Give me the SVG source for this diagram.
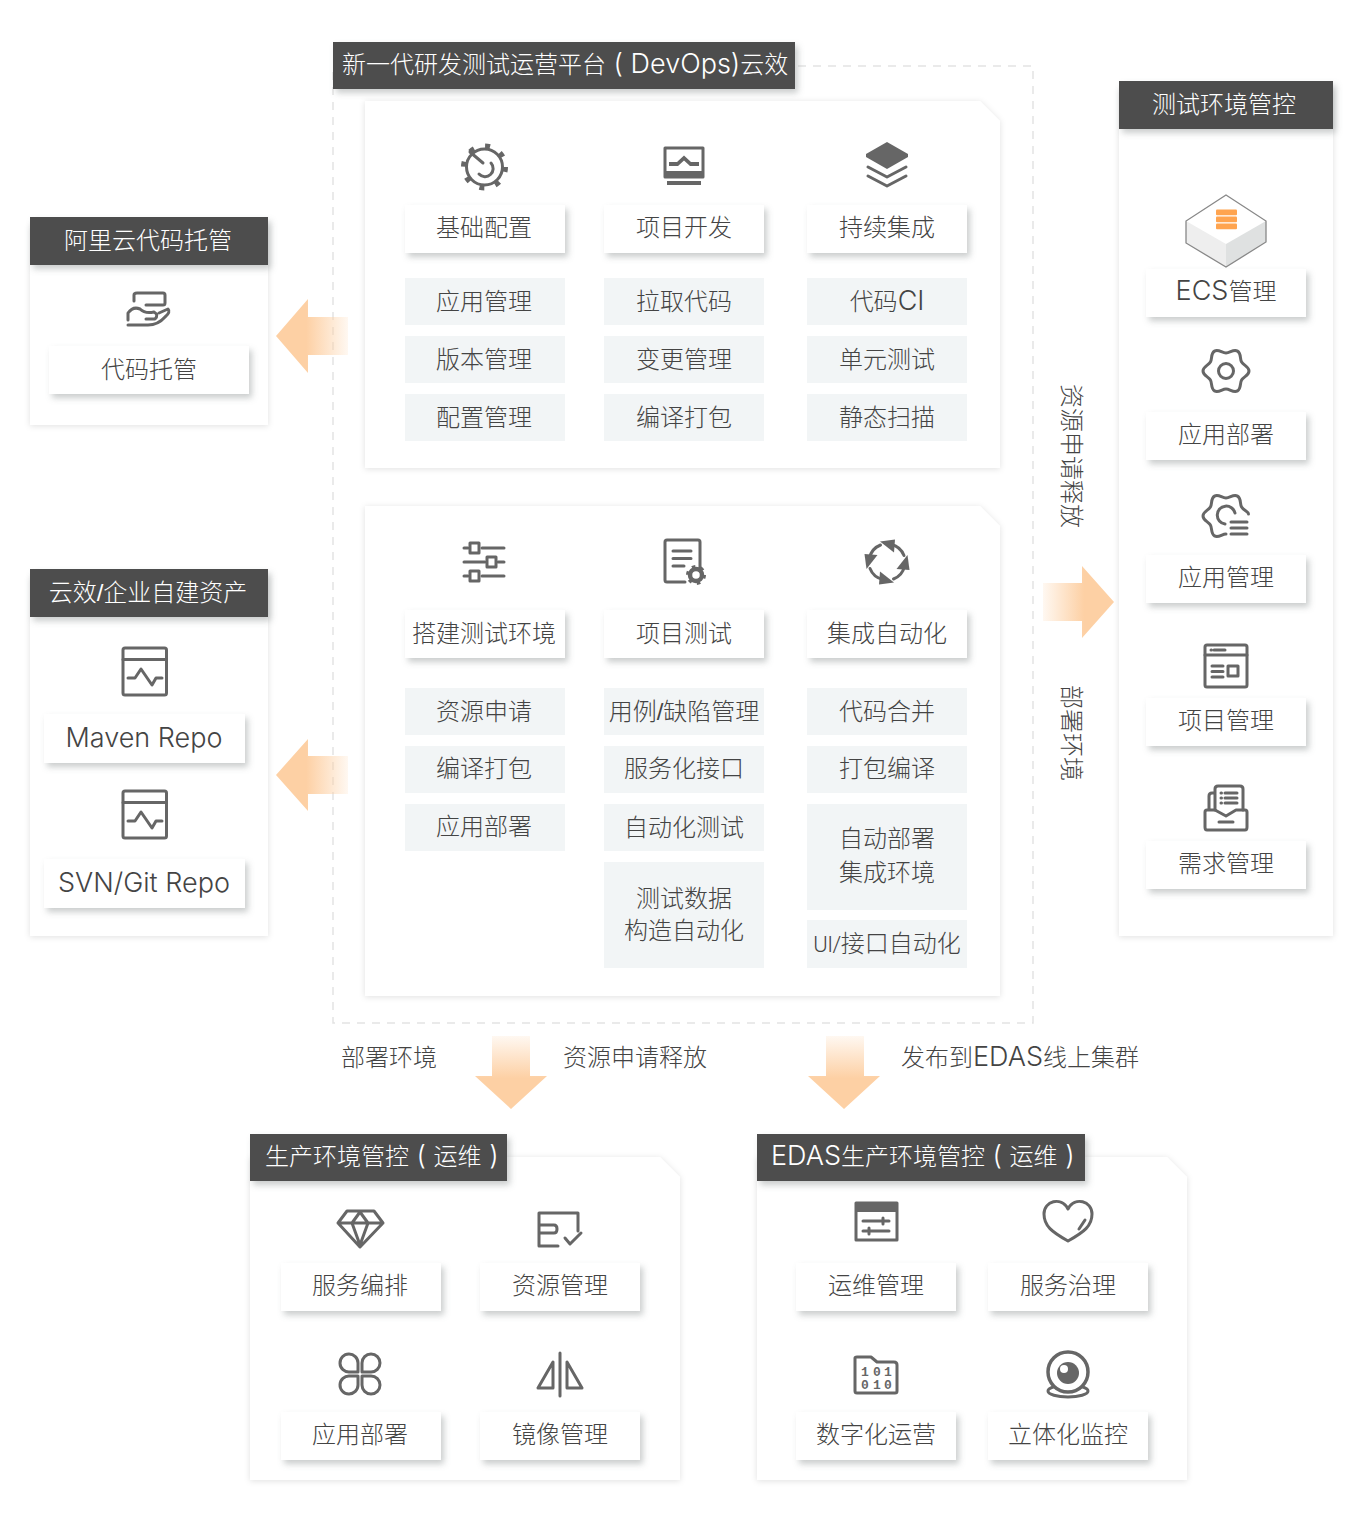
<svg xmlns="http://www.w3.org/2000/svg" xmlns:xlink="http://www.w3.org/1999/xlink" width="1360" height="1521" viewBox="0 0 1360 1521">
<style>
text{font-family:"Liberation Sans","Noto Sans CJK SC",sans-serif;font-size:24px;fill:#444;text-anchor:middle;font-weight:300}
.l{font-family:Inter,"Liberation Sans",sans-serif;font-size:27px;font-weight:300}
.u{font-family:Roboto,"Liberation Sans",sans-serif;font-size:22px;font-weight:300;letter-spacing:-.5px}
.t{fill:#fff}
.st{text-anchor:start}
.s{fill:#4d4d4d;filter:url(#bs)}
.p{fill:#fff;filter:url(#ps)}
.b{fill:#fff;filter:url(#bs)}
.g{fill:#f2f5f6}
.i{fill:none;stroke:#666;stroke-width:3;stroke-linejoin:round;stroke-linecap:round}
.f{fill:#666}
.d{font-size:13px;font-weight:700;fill:#666;font-family:"Liberation Mono",monospace}
</style>
<defs>
<filter id="bs" x="-20%" y="-30%" width="150%" height="170%"><feDropShadow dx="3" dy="4" stdDeviation="3" flood-color="#8a9090" flood-opacity=".45"/></filter>
<filter id="ps" x="-10%" y="-10%" width="120%" height="120%"><feDropShadow dx="0" dy="1" stdDeviation="3" flood-color="#000" flood-opacity=".12"/></filter>
<linearGradient id="al" x1="0" x2="1" y1="0" y2="0"><stop offset="0" stop-color="#fdd0a4"/><stop offset=".42" stop-color="#fdd0a4"/><stop offset="1" stop-color="#fdd0a4" stop-opacity=".15"/></linearGradient>
<linearGradient id="ar" x1="1" x2="0" y1="0" y2="0"><stop offset="0" stop-color="#fdd0a4"/><stop offset=".42" stop-color="#fdd0a4"/><stop offset="1" stop-color="#fdd0a4" stop-opacity=".15"/></linearGradient>
<linearGradient id="ad" x1="0" x2="0" y1="1" y2="0"><stop offset="0" stop-color="#fdd0a4"/><stop offset=".42" stop-color="#fdd0a4"/><stop offset="1" stop-color="#fdd0a4" stop-opacity=".15"/></linearGradient>
<path id="cog" d="M23 0C23-4.500 17.600-5.500 15.600-9 13.600-12.500 15.400-17.700 11.500-19.900 7.600-22.200 4-18 0-18-4-18-7.600-22.200-11.500-19.900-15.400-17.700-13.600-12.500-15.600-9-17.600-5.500-23-4.500-23 0-23 4.500-17.600 5.500-15.600 9-13.600 12.500-15.400 17.700-11.500 19.900-7.600 22.200-4 18 0 18 4 18 7.600 22.200 11.500 19.900 15.400 17.700 13.600 12.500 15.600 9 17.600 5.500 23 4.500 23 0Z"/>
<g id="repo"><rect class="i" x="123" y="648" width="43.500" height="47" rx="2"/><path class="i" d="M123 659.500H166.500M128 678H135L141 669L152 685L156 678H162"/></g>
<g id="ca"><path class="i" d="M4-17.500A18 18 0 0 1 17-6.500" stroke-width="7" stroke-linecap="butt"/><path class="f" d="M-7-20.500L8-22.500L7-9.500Z"/></g>
</defs>

<g id="connectors">
<rect x="333" y="66" width="700" height="957" fill="none" stroke="#e3e3e3" stroke-width="1.500" stroke-dasharray="8 7"/>
<path fill="url(#al)" d="M276 336L308 299V317H348V355H308V373Z"/>
<path fill="url(#al)" d="M276 775L308 739V756H348V794H308V811Z"/>
<path fill="url(#ar)" d="M1114 602L1082 566V583H1043V621H1082V638Z"/>
<path fill="url(#ad)" d="M511 1109L475 1076H492V1036H530V1076H547Z"/>
<path fill="url(#ad)" d="M844 1109L808 1076H826V1036H864V1076H880Z"/>
<text transform="translate(1063 456) rotate(90)">资源申请释放</text>
<text transform="translate(1063 733) rotate(90)">部署环境</text>
<text x="389" y="1066">部署环境</text>
<text x="635" y="1066">资源申请释放</text>
<text x="1020" y="1066">发布到<tspan class="l">EDAS</tspan>线上集群</text>
</g>

<g id="platform-title"><rect class="s" x="333" y="42" width="462" height="47"/><text class="t st" x="342" y="73">新一代研发测试运营平台<tspan class="l"> ( DevOps)</tspan>云效</text></g>

<g id="dev-panel">
<path class="p" d="M365 101H980L1000 121V468H365Z"/>
<g id="icon-jichu"><circle class="i" cx="484.500" cy="167" r="18" stroke-width="5"/><circle cx="484.500" cy="167" r="21" fill="none" stroke="#666" stroke-width="5" stroke-dasharray="5 11.490"/><path class="i" d="M470 152L483 163M491 163A7.500 7.500 0 1 1 479 174" stroke-width="4"/></g>
<g id="icon-xiangmu"><rect class="i" x="665" y="148" width="38" height="29" stroke-width="4" stroke-linecap="butt"/><path class="f" d="M665 171H703V178H665ZM667 181H701V185H667Z"/><path class="f" d="M669 162H677L684 155.500L691 162H699V166H690L684 160.500L678 166H669Z"/></g>
<g id="icon-layers"><path class="f" d="M887 142L908 154V157L887 169L866 157V154Z"/><path class="i" d="M868 167L887 177L906 167M868 176L887 186L906 176" stroke-width="4" stroke-linecap="butt"/></g>
<rect class="b" x="405" y="205" width="160" height="48"/><text x="484" y="236">基础配置</text>
<rect class="b" x="604" y="205" width="160" height="48"/><text x="684" y="236">项目开发</text>
<rect class="b" x="807" y="205" width="160" height="48"/><text x="887" y="236">持续集成</text>
<rect class="g" x="405" y="278" width="160" height="47"/><text x="484" y="310">应用管理</text>
<rect class="g" x="405" y="336" width="160" height="47"/><text x="484" y="368">版本管理</text>
<rect class="g" x="405" y="394" width="160" height="47"/><text x="484" y="426">配置管理</text>
<rect class="g" x="604" y="278" width="160" height="47"/><text x="684" y="310">拉取代码</text>
<rect class="g" x="604" y="336" width="160" height="47"/><text x="684" y="368">变更管理</text>
<rect class="g" x="604" y="394" width="160" height="47"/><text x="684" y="426">编译打包</text>
<rect class="g" x="807" y="278" width="160" height="47"/><text x="887" y="310">代码<tspan class="l">CI</tspan></text>
<rect class="g" x="807" y="336" width="160" height="47"/><text x="887" y="368">单元测试</text>
<rect class="g" x="807" y="394" width="160" height="47"/><text x="887" y="426">静态扫描</text>
</g>

<g id="test-panel">
<path class="p" d="M365 506H980L1000 526V996H365Z"/>
<g id="icon-sliders"><path class="i" d="M464 548H468M482 548H504M464 562H485M498 562H504M464 576H468M482 576H504" stroke-linecap="butt" stroke-width="4.500"/><rect class="i" x="470" y="543" width="9" height="10" stroke-width="4.500"/><rect class="i" x="487" y="557" width="9" height="10" stroke-width="4.500"/><rect class="i" x="470" y="571" width="9" height="10" stroke-width="4.500"/></g>
<g id="icon-doc"><path class="i" d="M700 568V542Q700 540 698 540H667Q665 540 665 542V580Q665 582 667 582H685" stroke-width="4.500"/><path class="i" d="M673 551H691M673 558.500H691M673 566H684" stroke-width="4" stroke-linecap="butt"/><circle cx="696" cy="575" r="6" fill="none" stroke="#666" stroke-width="4.500"/><circle cx="696" cy="575" r="8.500" fill="none" stroke="#666" stroke-width="3" stroke-dasharray="3.500 5.400"/></g>
<g id="icon-cycle" transform="translate(887 562)"><use xlink:href="#ca" href="#ca"/><use xlink:href="#ca" href="#ca" transform="rotate(90)"/><use xlink:href="#ca" href="#ca" transform="rotate(180)"/><use xlink:href="#ca" href="#ca" transform="rotate(270)"/></g>
<rect class="b" x="405" y="610" width="160" height="48"/><text x="484" y="642">搭建测试环境</text>
<rect class="b" x="604" y="610" width="160" height="48"/><text x="684" y="642">项目测试</text>
<rect class="b" x="807" y="610" width="160" height="48"/><text x="887" y="642">集成自动化</text>
<rect class="g" x="405" y="688" width="160" height="47"/><text x="484" y="720">资源申请</text>
<rect class="g" x="405" y="746" width="160" height="47"/><text x="484" y="777">编译打包</text>
<rect class="g" x="405" y="804" width="160" height="47"/><text x="484" y="835">应用部署</text>
<rect class="g" x="604" y="688" width="160" height="47"/><text x="684" y="720">用例/缺陷管理</text>
<rect class="g" x="604" y="746" width="160" height="47"/><text x="684" y="777">服务化接口</text>
<rect class="g" x="604" y="804" width="160" height="47"/><text x="684" y="836">自动化测试</text>
<rect class="g" x="604" y="862" width="160" height="106"/><text x="684" y="907">测试数据</text><text x="684" y="939">构造自动化</text>
<rect class="g" x="807" y="688" width="160" height="47"/><text x="887" y="720">代码合并</text>
<rect class="g" x="807" y="746" width="160" height="47"/><text x="887" y="777">打包编译</text>
<rect class="g" x="807" y="804" width="160" height="106"/><text x="887" y="847">自动部署</text><text x="887" y="881">集成环境</text>
<rect class="g" x="807" y="920" width="160" height="48"/><text x="887" y="952"><tspan class="u">UI/</tspan>接口自动化</text>
</g>

<g id="aliyun-hosting">
<rect class="p" x="30" y="225" width="238" height="200"/>
<rect class="s" x="30" y="217" width="238" height="48"/><text class="t" x="148" y="249">阿里云代码托管</text>
<g id="icon-hand"><path class="i" d="M134 301V295Q134 293 137 293H163Q165 293 165 295V303Q165 305 163 305H146M159 313L168 309Q171 312 165 317Q158 325 148 325H128M146 319H155Q159 315 154 312Q145 314 140 309Q133 306 128 313V320" stroke-width="2.800"/></g>
<rect class="b" x="49" y="346" width="200" height="48"/><text x="149" y="378">代码托管</text>
</g>

<g id="yunxiao-assets">
<rect class="p" x="30" y="577" width="238" height="359"/>
<rect class="s" x="30" y="569" width="238" height="48"/><text class="t" x="148" y="601">云效/企业自建资产</text>
<use xlink:href="#repo" href="#repo"/>
<rect class="b" x="44" y="714" width="201" height="49"/><text class="l" x="144" y="747">Maven Repo</text>
<use xlink:href="#repo" href="#repo" transform="translate(0 143)"/>
<rect class="b" x="44" y="859" width="201" height="49"/><text class="l" x="144" y="892">SVN/Git Repo</text>
</g>

<g id="test-env">
<rect class="p" x="1119" y="89" width="214" height="847"/>
<rect class="s" x="1119" y="81" width="214" height="48"/><text class="t" x="1224" y="113">测试环境管控</text>
<g id="icon-ecs">
<path fill="#fff" d="M1226 195L1266 221L1226 244L1186 221Z"/><path fill="#eee" d="M1186 221L1226 244V267L1186 243Z"/><path fill="#dfe1e1" d="M1266 221L1226 244V267L1266 242Z"/>
<path fill="none" stroke="#888" stroke-width="1.300" d="M1226 195L1266 221V242L1226 267L1186 243V221Z"/>
<rect fill="#ffa44f" x="1216" y="209.500" width="21" height="5.800" rx="1"/><rect fill="#ffa44f" x="1216" y="216.500" width="21" height="5.800" rx="1"/><rect fill="#ffa44f" x="1216" y="223.500" width="21" height="5.800" rx="1"/>
</g>
<rect class="b" x="1146" y="269" width="160" height="48"/><text x="1226" y="300"><tspan class="l">ECS</tspan>管理</text>
<g id="icon-appdeploy" transform="translate(1226 371)"><use xlink:href="#cog" href="#cog" class="i" stroke-width="3.500"/><circle class="i" r="7.500" stroke-width="3.500"/></g>
<rect class="b" x="1146" y="412" width="160" height="48"/><text x="1226" y="443">应用部署</text>
<g id="icon-appmanage" transform="translate(1226 516)"><path class="i" stroke-width="3.500" d="M22.500-2C22.500-4.500 17.600-5.500 15.600-9 13.600-12.500 15.400-17.700 11.500-19.900 7.600-22.200 4-18 0-18-4-18-7.600-22.200-11.500-19.900-15.400-17.700-13.600-12.500-15.600-9-17.600-5.500-23-4.500-23 0-23 4.500-17.600 5.500-15.600 9-13.600 12.500-15.400 17.700-11.500 19.900-7.600 22.200-4 18 0 18"/><path class="i" stroke-width="3.500" d="M9-3A9 9 0 1 0-1 8"/><path class="i" stroke-width="3.500" stroke-linecap="butt" d="M5 6H21M5 12H21M5 18H21"/></g>
<rect class="b" x="1146" y="555" width="160" height="48"/><text x="1226" y="586">应用管理</text>
<g id="icon-projmanage"><rect class="i" x="1205" y="645" width="42" height="42" rx="2"/><path class="i" d="M1205 655H1247M1214 650H1225M1212 666H1223M1212 671.500H1223M1212 677H1223"/><path class="i" d="M1211 650H1211.500" stroke-width="3"/><rect class="i" x="1228" y="666" width="10" height="10"/></g>
<rect class="b" x="1146" y="698" width="160" height="48"/><text x="1226" y="729">项目管理</text>
<g id="icon-req"><path class="i" stroke-width="2.500" d="M1209 809V796Q1209 793 1212 793H1215M1215 810V789Q1215 786 1218 786H1240Q1243 786 1243 789V810"/><path class="i" stroke-width="2.500" d="M1221 793H1221.500M1221 798H1221.500M1221 803H1221.500M1225 793H1237M1225 798H1237M1225 803H1237"/><path fill="#fff" class="i" stroke-width="2.500" d="M1215 810H1207Q1205 810 1205 812V827Q1205 830 1207 830H1245Q1247 830 1247 827V812Q1247 810 1245 810H1236L1226 816Z"/><path class="i" stroke-width="2.500" d="M1219 822H1233"/></g>
<rect class="b" x="1146" y="841" width="160" height="48"/><text x="1226" y="872">需求管理</text>
</g>

<g id="prod-env">
<path class="p" d="M250 1157H660L680 1177V1480H250Z"/>
<rect class="s" x="250" y="1134" width="257" height="47"/><text class="t st" x="265" y="1165">生产环境管控<tspan class="l"> ( </tspan>运维<tspan class="l"> )</tspan></text>
<g id="icon-gem"><path class="i" d="M338 1223L347 1211H374L383 1223L360 1247ZM338 1223H383M352 1223L360 1245L368 1223L360 1212Z"/></g>
<g id="icon-wallet"><path class="i" d="M578 1231V1213H539V1246H558M539 1225H554Q557 1225 557 1229Q557 1233 554 1233H539M565 1238L570 1244L581 1233" stroke-width="3"/></g>
<rect class="b" x="281" y="1263" width="160" height="48"/><text x="360" y="1294">服务编排</text>
<rect class="b" x="480" y="1263" width="160" height="48"/><text x="560" y="1294">资源管理</text>
<g id="icon-clover"><path class="i" d="M358 1372H349.500A9 9 0 1 1 358 1363ZM362 1372H371A9 9 0 1 0 362 1363ZM358 1376H349.500A9 9 0 1 0 358 1385ZM362 1376H371A9 9 0 1 1 362 1385Z"/></g>
<g id="icon-mirror"><path class="i" d="M560 1353V1396" stroke-width="4"/><path class="i" d="M553 1362V1388H538ZM567 1362V1388H582Z" stroke-width="3.500"/></g>
<rect class="b" x="281" y="1412" width="160" height="48"/><text x="360" y="1443">应用部署</text>
<rect class="b" x="480" y="1412" width="160" height="48"/><text x="560" y="1443">镜像管理</text>
</g>

<g id="edas-env">
<path class="p" d="M757 1157H1167L1187 1177V1480H757Z"/>
<rect class="s" x="757" y="1134" width="328" height="47"/><text class="t st" x="771" y="1165"><tspan class="l">EDAS</tspan>生产环境管控<tspan class="l"> ( </tspan>运维<tspan class="l"> )</tspan></text>
<g id="icon-ops"><rect class="i" x="856" y="1203" width="41" height="37" stroke-width="2.500" stroke-linecap="butt"/><path class="f" d="M855 1202H898V1212H855Z"/><path class="i" d="M863 1221H889M863 1231H889" stroke-width="2"/><path class="i" d="M883 1218V1224M869 1228V1234" stroke-width="3"/></g>
<g id="icon-heart"><path class="i" d="M1068 1241C1052 1232 1044 1226 1044 1214C1044 1201 1061 1196 1068 1209C1075 1196 1092 1201 1092 1214C1092 1226 1084 1232 1068 1241ZM1079 1229L1085 1220" stroke-width="2.800"/></g>
<rect class="b" x="796" y="1263" width="160" height="48"/><text x="876" y="1294">运维管理</text>
<rect class="b" x="988" y="1263" width="160" height="48"/><text x="1068" y="1294">服务治理</text>
<g id="icon-folder"><path class="i" d="M855 1358Q855 1357 857 1357H871L877 1362H894Q897 1362 897 1365V1391Q897 1393 895 1393H857Q855 1393 855 1391Z" stroke-width="2.500"/><text class="d" x="865" y="1376">1</text><text class="d" x="877" y="1376">0</text><text class="d" x="888" y="1376">1</text><text class="d" x="865" y="1389">0</text><text class="d" x="877" y="1389">1</text><text class="d" x="888" y="1389">0</text></g>
<g id="icon-cam"><ellipse class="i" cx="1068" cy="1391" rx="20" ry="6" stroke-width="3"/><circle cx="1068" cy="1372" r="20" fill="#fff" stroke="#666" stroke-width="3.500"/><circle class="f" cx="1068" cy="1373" r="11"/><circle cx="1064" cy="1369" r="4" fill="#fff"/></g>
<rect class="b" x="796" y="1412" width="160" height="48"/><text x="876" y="1443">数字化运营</text>
<rect class="b" x="988" y="1412" width="160" height="48"/><text x="1068" y="1443">立体化监控</text>
</g>
</svg>
